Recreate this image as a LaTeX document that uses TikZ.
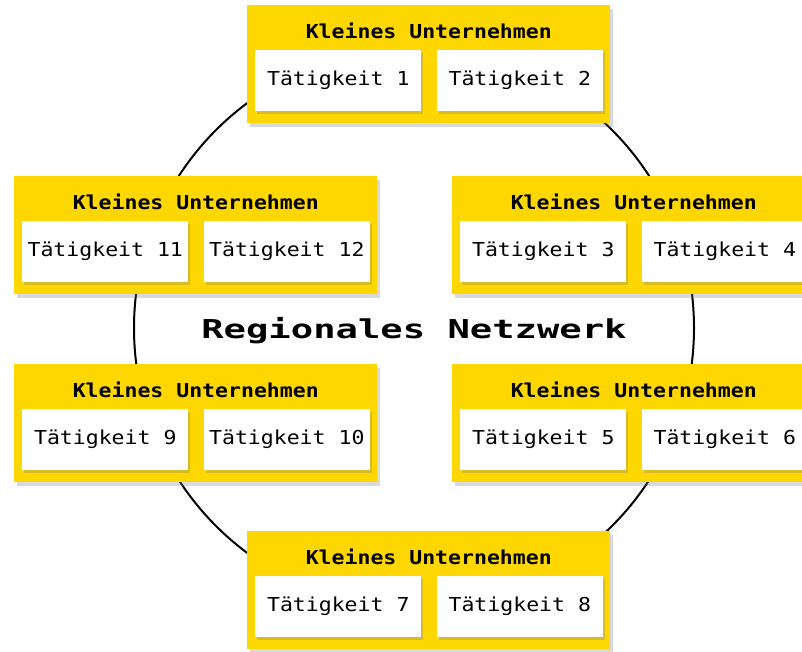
\documentclass[tikz,border=0pt]{standalone}
\usepackage{fontspec}
\setmonofont{DejaVu Sans Mono}[FakeStretch=1.12]
\newfontfamily\netfont{DejaVu Sans Mono}[FakeStretch=1.43]
\usepackage{tikz}
\usetikzlibrary{positioning,shadows}
\usepackage{xcolor}
\definecolor{firmyellow}{HTML}{FFD700}

\begin{document}
\begin{tikzpicture}[
  x=0.75pt, y=-0.75pt,
  firm/.style={fill=firmyellow, anchor=north west, minimum width=272.25pt, minimum height=88.5pt,
    drop shadow={shadow xshift=2pt, shadow yshift=-2.5pt, opacity=0.3}},
  firmtitle/.style={inner sep=0pt, font=\ttfamily\bfseries\fontsize{14.4}{16}\selectfont},
  task/.style={fill=white, minimum width=124.5pt, minimum height=45.75pt, inner sep=0pt,
    font=\ttfamily\fontsize{14.4}{16}\selectfont,
    drop shadow={shadow xshift=1.5pt, shadow yshift=-2pt, opacity=0.3}}
]
\useasboundingbox (0,0) rectangle (802,652);

% ring of the network
\node[circle, draw, line width=1.5pt, minimum size=420pt, inner sep=0pt] (ring) at (414,328) {};
\node[font=\netfont\bfseries\fontsize{19.5}{22}\selectfont] (net) at (414,331) {Regionales Netzwerk};

% top
\node[firm] (firmA) at (247,5) {};
\node[firmtitle, below=13.5pt of firmA.north] (titleA) {Kleines Unternehmen};
\node[task, below right=33.5pt and 6pt of firmA.north west] (t1) {Tätigkeit 1};
\node[task, right=11.25pt of t1] (t2) {Tätigkeit 2};

% top right
\node[firm] (firmB) at (452,176) {};
\node[firmtitle, below=13.5pt of firmB.north] (titleB) {Kleines Unternehmen};
\node[task, below right=33.5pt and 6pt of firmB.north west] (t3) {Tätigkeit 3};
\node[task, right=11.25pt of t3] (t4) {Tätigkeit 4};

% bottom right
\node[firm] (firmC) at (452,364) {};
\node[firmtitle, below=13.5pt of firmC.north] (titleC) {Kleines Unternehmen};
\node[task, below right=33.5pt and 6pt of firmC.north west] (t5) {Tätigkeit 5};
\node[task, right=11.25pt of t5] (t6) {Tätigkeit 6};

% bottom
\node[firm] (firmD) at (247,531) {};
\node[firmtitle, below=13.5pt of firmD.north] (titleD) {Kleines Unternehmen};
\node[task, below right=33.5pt and 6pt of firmD.north west] (t7) {Tätigkeit 7};
\node[task, right=11.25pt of t7] (t8) {Tätigkeit 8};

% bottom left
\node[firm] (firmE) at (14,364) {};
\node[firmtitle, below=13.5pt of firmE.north] (titleE) {Kleines Unternehmen};
\node[task, below right=33.5pt and 6pt of firmE.north west] (t9) {Tätigkeit 9};
\node[task, right=11.25pt of t9] (t10) {Tätigkeit 10};

% top left
\node[firm] (firmF) at (14,176) {};
\node[firmtitle, below=13.5pt of firmF.north] (titleF) {Kleines Unternehmen};
\node[task, below right=33.5pt and 6pt of firmF.north west] (t11) {Tätigkeit 11};
\node[task, right=11.25pt of t11] (t12) {Tätigkeit 12};

\end{tikzpicture}
\end{document}
